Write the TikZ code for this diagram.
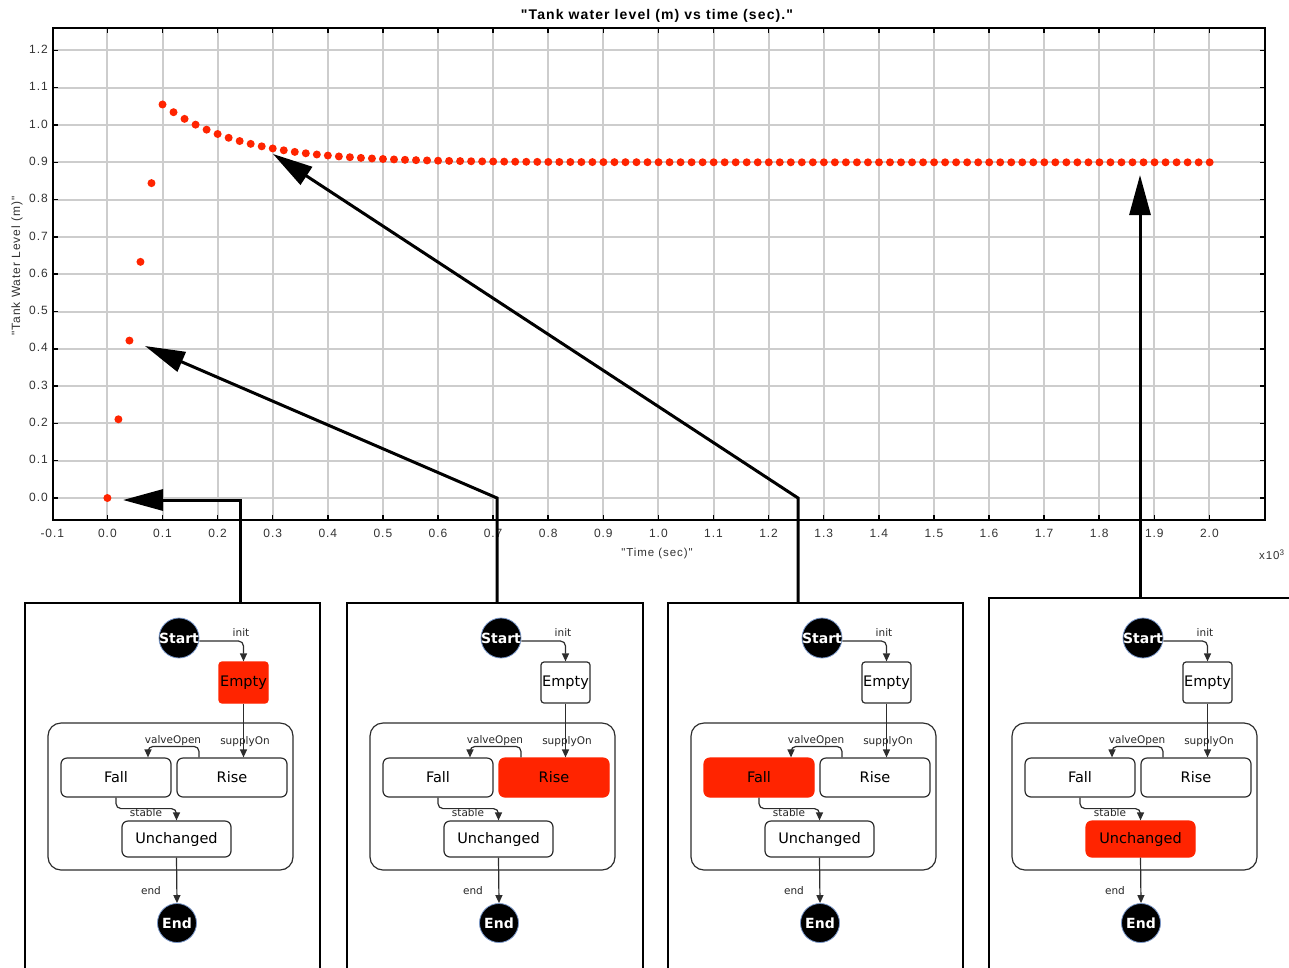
\documentclass[tikz,border=0pt]{standalone}
\usepackage{fontspec}
\setmainfont{DejaVu Sans}
\newfontfamily\plotfont[LetterSpace=8]{Liberation Sans}
\usetikzlibrary{arrows.meta}

\definecolor{hot}{RGB}{255,36,0}
\definecolor{gridgrey}{RGB}{205,205,205}
\definecolor{edgegrey}{RGB}{45,45,45}
\definecolor{glow}{RGB}{120,150,200}
\definecolor{labelgrey}{RGB}{50,50,50}

\begin{document}
\begin{tikzpicture}[x=1pt,y=-1pt,
  gridline/.style={gridgrey, line width=2pt},
  frameline/.style={black, line width=2.5pt},
  tickmark/.style={black, line width=1.5pt},
  ticklabel/.style={font=\plotfont\fontsize{12}{14}\selectfont, text=labelgrey, inner sep=0pt},
  axislabel/.style={font=\plotfont\fontsize{11.5}{13}\selectfont, text=labelgrey, inner sep=0pt},
  dot/.style={circle, fill=hot, inner sep=0pt, minimum size=8pt},
  pointer/.style={line width=3pt, -{Triangle[length=40pt,width=21pt]}},
  panel/.style={draw, line width=2.2pt, inner sep=0pt, outer sep=0pt, anchor=north west},
  state/.style={draw=edgegrey, line width=1.2pt, rounded corners=6pt, minimum height=39pt,
    inner sep=0pt, font=\fontsize{14.5}{16}\selectfont, text=black},
  hotbox/.style={fill=hot, draw=hot},
  coldbox/.style={fill=white},
  pick/.code={\ifnum#1=\hl\relax\pgfkeysalso{hotbox}\else\pgfkeysalso{coldbox}\fi},
  terminal/.style={circle, fill=black, draw=glow, line width=0.8pt, minimum size=40pt, inner sep=0pt},
  termtext/.style={text=white, font=\bfseries\fontsize{14}{16}\selectfont, inner sep=0pt},
  trans/.style={edgegrey, line width=1.2pt, rounded corners=5pt, -{Triangle[length=8pt,width=7pt]}},
  translabel/.style={font=\fontsize{10.5}{12}\selectfont, text=black!85, inner sep=0pt},
]
\clip (0,0) rectangle (1289,967);

% ---------- chart grid ----------
\foreach \k in {0,...,20} {
  \pgfmathsetmacro\gx{107.4+55.1*\k}
  \draw[gridline] (\gx,28) -- (\gx,520);
}
\foreach \k in {0,...,12} {
  \pgfmathsetmacro\gy{498-37.3*\k}
  \draw[gridline] (53,\gy) -- (1265,\gy);
}

% ---------- data points ----------
\foreach \k in {0,...,4} {
  \pgfmathsetmacro\t{0.02*\k}
  \pgfmathsetmacro\v{10.55*\t}
  \node[dot] at ({107.4+551*\t},{498-373*\v}) {};
}
\foreach \k in {5,...,100} {
  \pgfmathsetmacro\t{0.02*\k}
  \pgfmathsetmacro\v{0.9+0.155*exp(-(\t-0.1)/0.14)}
  \node[dot] at ({107.4+551*\t},{498-373*\v}) {};
}

% ---------- frame and ticks ----------
\node[draw, frameline, minimum width=1212pt, minimum height=492pt, anchor=north west, inner sep=0pt, outer sep=0pt] (plot) at (53,28) {};
\foreach \k in {0,...,20} {
  \pgfmathsetmacro\gx{107.4+55.1*\k}
  \draw[tickmark] (\gx,520) -- (\gx,515);
  \draw[tickmark] (\gx,28) -- (\gx,33);
}
\foreach \k in {0,...,12} {
  \pgfmathsetmacro\gy{498-37.3*\k}
  \draw[tickmark] (53,\gy) -- (58,\gy);
  \draw[tickmark] (1265,\gy) -- (1260,\gy);
}

% ---------- axis labels ----------
\foreach \lab [count=\c] in {-0.1,0.0,0.1,0.2,0.3,0.4,0.5,0.6,0.7,0.8,0.9,1.0,1.1,1.2,1.3,1.4,1.5,1.6,1.7,1.8,1.9,2.0} {
  \pgfmathsetmacro\gx{107.4+55.1*(\c-2)}
  \node[ticklabel] at (\gx,533) {\lab};
}
\foreach \lab [count=\c] in {0.0,0.1,0.2,0.3,0.4,0.5,0.6,0.7,0.8,0.9,1.0,1.1,1.2} {
  \pgfmathsetmacro\gy{497-37.3*(\c-1)}
  \node[ticklabel, anchor=east] at (48,\gy) {\lab};
}
\node[font=\plotfont\bfseries\fontsize{14}{16}\selectfont, inner sep=0pt] (title) at (657,16) {"Tank water level (m) vs time (sec)."};
\node[axislabel, rotate=90, font=\plotfont\fontsize{12}{14}\selectfont] (ylab) at (17,266) {"Tank Water Level (m)"};
\node[axislabel] (xlab) at (657,554) {"Time (sec)"};
\node[axislabel, anchor=west] (scale) at (1259,555) {x10\textsuperscript{3}};

% ---------- state machine panels ----------
\foreach \dx/\hl/\ptop/\pwidth in {0/1/603/295, 322/2/603/296, 643/3/603/295, 964/4/598/330} {
  \begin{scope}[shift={(\dx,0)}]
    \node[panel, minimum width=\pwidth pt, minimum height=420pt] (pan\hl) at (25,\ptop) {};
    \node[terminal] (start\hl) at (179,638) {};
    \node[termtext] at (start\hl.center) {Start};
    \node[state, pick=1, minimum width=49pt, minimum height=41pt, rounded corners=3pt] (empty\hl) at (243.5,682.5) {Empty};
    \node[draw=edgegrey, line width=1.2pt, rounded corners=13pt, minimum width=245pt, minimum height=147pt, inner sep=0pt] (group\hl) at (170.5,796.5) {};
    \node[state, pick=3, minimum width=110pt] (fall\hl) at (116,777.5) {Fall};
    \node[state, pick=2, minimum width=110pt] (rise\hl) at (232,777.5) {Rise};
    \node[state, pick=4, minimum width=109pt, minimum height=36pt] (unch\hl) at (176.5,839) {Unchanged};
    \node[terminal, minimum size=39pt] (end\hl) at (177,923) {};
    \node[termtext] at (end\hl.center) {End};

    \draw[trans] ([yshift=-3pt]start\hl.east) -| (empty\hl.north);
    \draw[trans] (empty\hl.south) -- (empty\hl.south |- rise\hl.north);
    \draw[trans] ([xshift=-33pt]rise\hl.north) -- ++(0,-11) -| ([xshift=32pt]fall\hl.north);
    \draw[trans] (fall\hl.south) -- ++(0,11) -| (unch\hl.north);
    \draw[trans] (unch\hl.south) -- (end\hl.north);

    \node[translabel] at (241,632) {init};
    \node[translabel] at (245,742) {supplyOn};
    \node[translabel] at (173,741) {valveOpen};
    \node[translabel] at (146,813) {stable};
    \node[translabel] at (151,891) {end};
  \end{scope}
}

% ---------- pointers from panels to the curve ----------
\coordinate (src1) at (240,603);
\coordinate (tip1) at (123,500);
\coordinate (src2) at (497,603);
\coordinate (bend2) at (497,498);
\coordinate (tip2) at (145,346);
\coordinate (src3) at (798,603);
\coordinate (bend3) at (798,498);
\coordinate (tip3) at (273,154);
\coordinate (src4) at (1140,598);
\coordinate (tip4) at (1140,175);

\draw[pointer] (src1) |- (tip1);
\draw[pointer] (src2) -- (bend2) -- (tip2);
\draw[pointer] (src3) -- (bend3) -- (tip3);
\draw[pointer] (src4) -- (tip4);
\end{tikzpicture}
\end{document}
